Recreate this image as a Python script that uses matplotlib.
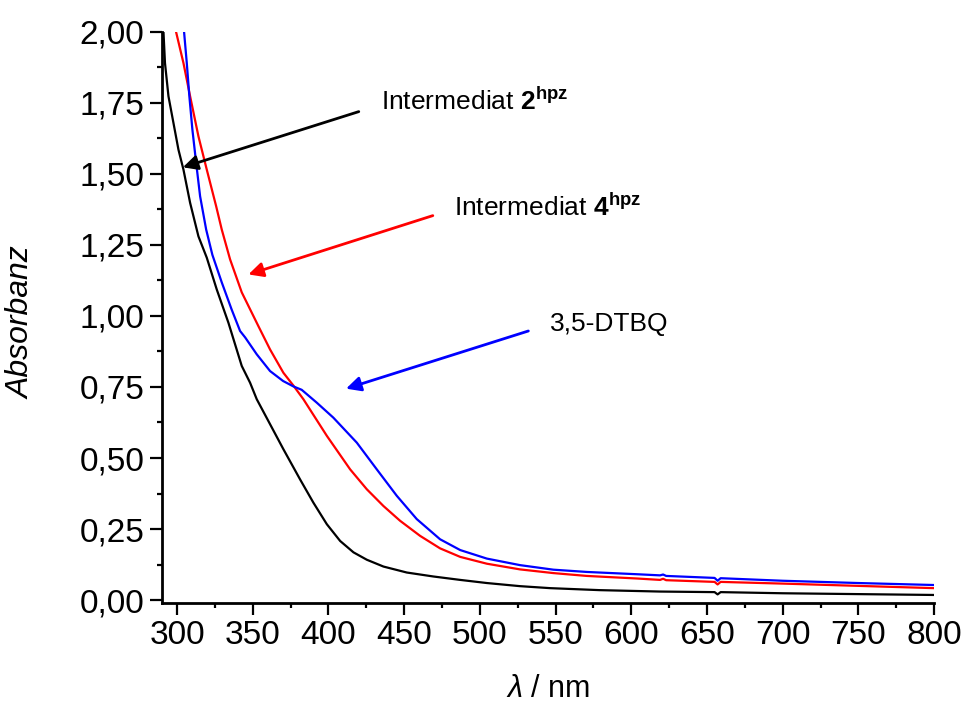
import matplotlib
matplotlib.use("Agg")
import matplotlib.pyplot as plt
from matplotlib.ticker import MultipleLocator, FuncFormatter

plt.rcParams['font.family'] = ['Liberation Sans', 'DejaVu Sans']
plt.rcParams['mathtext.fontset'] = 'custom'
plt.rcParams['mathtext.rm'] = 'Liberation Sans'
plt.rcParams['mathtext.it'] = 'Liberation Sans:italic'
plt.rcParams['mathtext.bf'] = 'Liberation Sans:bold'

# Intermediat 2hpz (schwarz)
wl_2 = [291, 292, 294.3, 297.6, 300.9, 304.2, 308.6, 314.1, 319.6, 326.2, 333.9, 342.7,
        348.2, 352.6, 370.2, 381.2, 390, 398.9, 407.7, 416.5, 425.3, 436.3, 451.7,
        469.3, 487, 504.6, 526.5, 546.4, 579, 619, 655, 657, 659, 700, 750, 800]
abs_2 = [2.00, 1.89, 1.773, 1.679, 1.585, 1.515, 1.398, 1.28, 1.205, 1.093, 0.976, 0.824,
         0.765, 0.707, 0.531, 0.425, 0.343, 0.267, 0.208, 0.168, 0.142, 0.118, 0.097,
         0.083, 0.071, 0.060, 0.049, 0.042, 0.035, 0.030, 0.028, 0.020, 0.028, 0.024,
         0.021, 0.018]

# Intermediat 4hpz (rot)
wl_4 = [299.3, 304.2, 308.6, 314.1, 319.6, 325.8, 329.5, 335, 342.7, 353.7, 361.4,
        370.2, 376.8, 383.4, 398.9, 414.3, 425.3, 436.3, 447.3, 460.5, 473.7, 487,
        504.6, 526.5, 548.5, 570.6, 603.6, 619, 621, 623, 655, 657, 659, 700, 750, 800]
abs_4 = [2.00, 1.89, 1.773, 1.632, 1.515, 1.386, 1.304, 1.199, 1.083, 0.964, 0.882,
         0.80, 0.755, 0.707, 0.578, 0.46, 0.39, 0.331, 0.279, 0.226, 0.182, 0.152,
         0.128, 0.108, 0.095, 0.085, 0.076, 0.071, 0.075, 0.070, 0.064, 0.055, 0.064,
         0.058, 0.050, 0.042]

# 3,5-DTBQ (blau)
wl_q = [304.6, 306.4, 308.1, 310.1, 312.6, 315.2, 319.2, 323.3, 329.5, 336, 341.6,
        345, 352.6, 361.4, 370, 376.8, 382.3, 392.2, 403.2, 418.7, 431.9, 445.1, 458.3,
        473.7, 487, 504.6, 526.5, 548.5, 570.6, 603.6, 619, 621, 623, 655, 657, 659,
        700, 750, 800]
abs_q = [2.00, 1.89, 1.773, 1.656, 1.538, 1.421, 1.304, 1.215, 1.118, 1.023, 0.947,
         0.924, 0.865, 0.806, 0.771, 0.752, 0.740, 0.695, 0.642, 0.554, 0.46, 0.367,
         0.285, 0.214, 0.176, 0.146, 0.123, 0.107, 0.099, 0.091, 0.087, 0.090, 0.085,
         0.078, 0.068, 0.077, 0.068, 0.060, 0.053]

fig = plt.figure(figsize=(9.64, 7.06), dpi=100)
ax = fig.add_axes([0.168, 0.146, 0.801, 0.809])

ax.plot(wl_2, abs_2, color='black', lw=1.6)
ax.plot(wl_4, abs_4, color='red', lw=1.6)
ax.plot(wl_q, abs_q, color='blue', lw=1.6)

ax.set_xlim(290, 800)
ax.set_ylim(-0.01, 2.0)

for s in ['top', 'right']:
    ax.spines[s].set_visible(False)
for s in ['left', 'bottom']:
    ax.spines[s].set_linewidth(2)

ax.xaxis.set_major_locator(MultipleLocator(50))
ax.xaxis.set_minor_locator(MultipleLocator(25))
ax.yaxis.set_major_locator(MultipleLocator(0.25))
ax.yaxis.set_minor_locator(MultipleLocator(0.125))
ax.yaxis.set_major_formatter(FuncFormatter(lambda v, p: f'{v:.2f}'.replace('.', ',')))
ax.tick_params(which='major', direction='out', length=8.5, width=1.6, labelsize=24, pad=4)
ax.tick_params(which='minor', direction='out', length=3.8, width=1.6)

ax.set_ylabel('Absorbanz', fontsize=23, style='italic')
ax.yaxis.set_label_coords(-0.162, 0.49)
ax.set_xlabel(r'$\mathit{\lambda}$ / nm', fontsize=22)
ax.xaxis.set_label_coords(0.5, -0.125)

# Pfeile und Beschriftungen
arrows = [
    ((303.8, 1.523), (420.0, 1.719), 'black'),
    ((347.1, 1.146), (468.9, 1.353), 'red'),
    ((411.6, 0.744), (532.0, 0.947), 'blue'),
]
for tip, tail, c in arrows:
    ax.annotate('', xy=tip, xytext=tail,
                arrowprops=dict(arrowstyle='-|>', color=c, lw=2, mutation_scale=22,
                                shrinkA=0, shrinkB=0))

ax.text(434.7, 1.755, r'Intermediat $\mathbf{2^{hpz}}$', fontsize=19, va='center')
ax.text(483.2, 1.381, r'Intermediat $\mathbf{4^{hpz}}$', fontsize=19, va='center')
ax.text(546.4, 0.970, '3,5-DTBQ', fontsize=19, va='center')

fig.savefig('out.png', dpi=100)
